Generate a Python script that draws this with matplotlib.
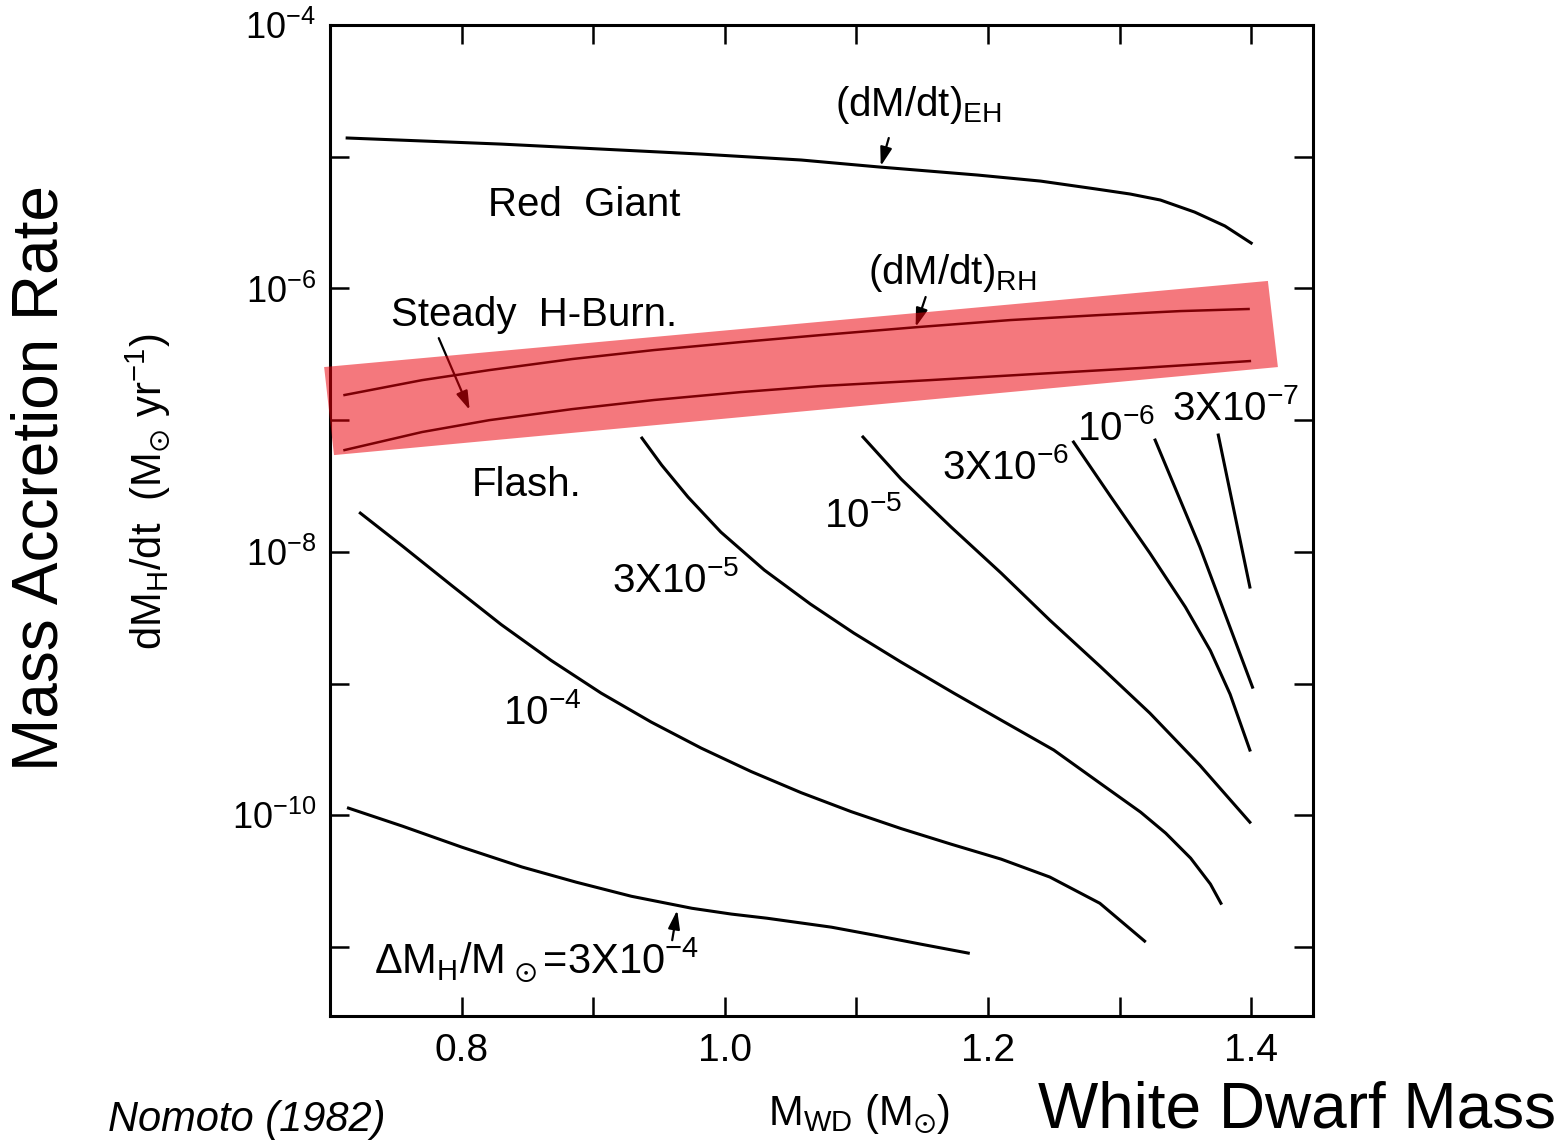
import matplotlib
matplotlib.use("Agg")
import matplotlib.pyplot as plt
from matplotlib.patches import Polygon

plt.rcParams['font.family'] = ['Liberation Sans', 'DejaVu Sans']
plt.rcParams['mathtext.fontset'] = 'custom'
plt.rcParams['mathtext.rm'] = 'Liberation Sans'
plt.rcParams['mathtext.it'] = 'Liberation Sans:italic'
plt.rcParams['mathtext.bf'] = 'Liberation Sans:bold'
plt.rcParams['mathtext.default'] = 'regular'

eh_mass = [0.713, 0.830, 0.906, 0.982, 1.058, 1.117, 1.192, 1.240, 1.282, 1.308,
           1.331, 1.357, 1.380, 1.400]
eh_rate = [1.387e-5, 1.247e-5, 1.143e-5, 1.047e-5, 9.44e-6, 8.36e-6, 7.26e-6, 6.53e-6,
           5.69e-6, 5.21e-6, 4.69e-6, 3.80e-6, 2.98e-6, 2.21e-6]

rh_mass = [0.711, 0.770, 0.821, 0.884, 0.946, 1.012, 1.073, 1.147, 1.217, 1.285,
           1.346, 1.398]
rh_rate = [1.552e-7, 2.014e-7, 2.399e-7, 2.911e-7, 3.404e-7, 3.917e-7, 4.426e-7,
           5.093e-7, 5.754e-7, 6.281e-7, 6.730e-7, 6.98e-7]

steady_mass = [0.711, 0.770, 0.821, 0.884, 0.946, 1.012, 1.073, 1.156, 1.235, 1.316, 1.399]
steady_rate = [5.93e-8, 8.13e-8, 1.00e-7, 1.213e-7, 1.422e-7, 1.633e-7, 1.816e-7,
               2.014e-7, 2.239e-7, 2.489e-7, 2.81e-7]

# Curves of constant envelope mass Delta M_H / Msun
dm_3e4_mass = [0.714, 0.755, 0.800, 0.846, 0.887, 0.929, 0.975, 1.005, 1.032, 1.081,
               1.114, 1.149, 1.185]
dm_3e4_rate = [1.135e-10, 8.28e-11, 5.74e-11, 4.05e-11, 3.11e-11, 2.43e-11, 1.97e-11,
               1.78e-11, 1.656e-11, 1.416e-11, 1.23e-11, 1.052e-11, 9.0e-12]

dm_1e4_mass = [0.723, 0.755, 0.793, 0.830, 0.868, 0.906, 0.944, 0.982, 1.020, 1.058,
               1.096, 1.134, 1.172, 1.210, 1.247, 1.285, 1.319]
dm_1e4_rate = [1.97e-8, 1.107e-8, 5.50e-9, 2.81e-9, 1.50e-9, 8.47e-10, 5.11e-10, 3.24e-10,
               2.15e-10, 1.486e-10, 1.067e-10, 7.93e-11, 6.04e-11, 4.65e-11, 3.40e-11,
               2.15e-11, 1.11e-11]

dm_3e5_mass = [0.937, 0.952, 0.972, 0.997, 1.030, 1.065, 1.098, 1.134, 1.174, 1.210,
               1.250, 1.285, 1.316, 1.335, 1.354, 1.369, 1.377]
dm_3e5_rate = [7.31e-8, 4.56e-8, 2.61e-8, 1.413e-8, 7.28e-9, 4.02e-9, 2.42e-9, 1.455e-9,
               8.47e-10, 5.28e-10, 3.13e-10, 1.758e-10, 1.057e-10, 7.33e-11, 4.73e-11,
               3.01e-11, 2.15e-11]

dm_1e5_mass = [1.105, 1.134, 1.172, 1.210, 1.247, 1.285, 1.323, 1.361, 1.399]
dm_1e5_rate = [7.45e-8, 3.57e-8, 1.542e-8, 6.90e-9, 3.03e-9, 1.358e-9, 5.97e-10,
               2.40e-10, 8.87e-11]

dm_3e6_mass = [1.265, 1.293, 1.323, 1.350, 1.369, 1.384, 1.399]
dm_3e6_rate = [6.82e-8, 2.65e-8, 9.79e-9, 3.81e-9, 1.78e-9, 8.3e-10, 3.13e-10]

dm_1e6_mass = [1.327, 1.361, 1.401]
dm_1e6_rate = [7.06e-8, 1.09e-8, 9.4e-10]

dm_3e7_mass = [1.375, 1.399]
dm_3e7_rate = [7.71e-8, 5.41e-9]

# Highlighted steady-burning band (corners)
band_mass = [0.6955, 1.4127, 1.4203, 0.703]
band_rate = [2.53e-7, 1.14e-6, 2.53e-7, 5.43e-8]

x_ticks = [0.7, 0.8, 0.9, 1.0, 1.1, 1.2, 1.3, 1.4]
x_labels = ['', '0.8', '', '1.0', '', '1.2', '', '1.4']
y_ticks = [1e-11, 1e-10, 1e-9, 1e-8, 1e-7, 1e-6, 1e-5, 1e-4]
y_labels = ['', '10$^{-10}$', '', '10$^{-8}$', '', '10$^{-6}$', '', '10$^{-4}$']

fig = plt.figure(figsize=(15.65, 11.41), dpi=100)
ax = fig.add_axes([0.2109, 0.1096, 0.6281, 0.8685])
ax.set_yscale('log')
ax.set_xlim(0.7, 1.447)
ax.set_ylim(3e-12, 1e-4)

lw = 2.2
ax.plot(eh_mass, eh_rate, color='black', lw=lw)
ax.plot(rh_mass, rh_rate, color='black', lw=1.8)
ax.plot(steady_mass, steady_rate, color='black', lw=1.8)
for m, r in [(dm_3e4_mass, dm_3e4_rate), (dm_1e4_mass, dm_1e4_rate),
             (dm_3e5_mass, dm_3e5_rate), (dm_1e5_mass, dm_1e5_rate),
             (dm_3e6_mass, dm_3e6_rate), (dm_1e6_mass, dm_1e6_rate),
             (dm_3e7_mass, dm_3e7_rate)]:
    ax.plot(m, r, color='black', lw=lw)

band = Polygon(list(zip(band_mass, band_rate)), closed=True, facecolor='#EC000A',
               edgecolor='none', alpha=0.53, zorder=6, clip_on=False)
ax.add_patch(band)

ax.set_xticks(x_ticks)
ax.set_xticklabels(x_labels)
ax.set_yticks(y_ticks)
ax.set_yticklabels(y_labels)
ax.minorticks_off()
ax.tick_params(direction='in', length=14, width=1.8, top=True, right=True, pad=10)
ax.tick_params(axis='x', labelsize=28, pad=12)
ax.tick_params(axis='y', labelsize=26)
for s in ax.spines.values():
    s.set_linewidth(2.2)

fs = 29
arrow = dict(arrowstyle='-|>,head_length=0.7,head_width=0.22', color='black', lw=1.6,
             mutation_scale=16, shrinkA=0, shrinkB=0)
ax.text(1.147, 10**-4.61, '(dM/dt)$_{EH}$', ha='center', va='center', fontsize=fs)
ax.annotate('', xy=(1.1185, 10**-5.071), xytext=(1.1246, 10**-4.858), arrowprops=arrow)
ax.text(0.893, 10**-5.367, 'Red  Giant', ha='center', va='center', fontsize=fs)
ax.text(1.173, 10**-5.88, '(dM/dt)$_{RH}$', ha='center', va='center', fontsize=fs)
ax.annotate('', xy=(1.145, 10**-6.293), xytext=(1.1526, 10**-6.065), arrowprops=arrow)
ax.text(0.855, 10**-6.20, 'Steady  H-Burn.', ha='center', va='center', fontsize=fs)
ax.annotate('', xy=(0.8061, 10**-6.923), xytext=(0.7826, 10**-6.377), arrowprops=arrow)
ax.text(0.849, 10**-7.49, 'Flash.', ha='center', va='center', fontsize=fs)
ax.text(0.861, 10**-9.216, '10$^{-4}$', ha='center', va='center', fontsize=fs)
ax.text(0.963, 10**-8.214, '3X10$^{-5}$', ha='center', va='center', fontsize=fs)
ax.text(1.105, 10**-7.72, '10$^{-5}$', ha='center', va='center', fontsize=fs)
ax.text(1.213, 10**-7.356, '3X10$^{-6}$', ha='center', va='center', fontsize=fs)
ax.text(1.297, 10**-7.06, '10$^{-6}$', ha='center', va='center', fontsize=fs)
ax.text(1.388, 10**-6.91, '3X10$^{-7}$', ha='center', va='center', fontsize=fs)
ax.text(0.857, 10**-11.1, r'$\Delta$M$_H$/M$_{\,\odot}$=3X10$^{-4}$', ha='center',
        va='center', fontsize=30)
ax.annotate('', xy=(0.9638, 10**-10.72), xytext=(0.960, 10**-10.948), arrowprops=arrow)

fig.text(0.0946, 0.569, r'dM$_H$/dt  (M$_{\odot}$ yr$^{-1}$)', rotation=90,
         ha='center', va='center', fontsize=30)
fig.text(0.549, 0.014, r'M$_{WD}$ (M$_{\odot}$)', ha='center', va='baseline', fontsize=30)

fig.text(0.0256, 0.581, 'Mass Accretion Rate', rotation=90, ha='center', va='center',
         fontsize=46)
fig.text(0.829, 0.0, 'White Dwarf Mass', ha='center', va='bottom', fontsize=46)
fig.text(0.069, 0.001, 'Nomoto (1982)', ha='left', va='bottom', fontsize=30,
         style='italic')

fig.savefig('out.png', dpi=100)
